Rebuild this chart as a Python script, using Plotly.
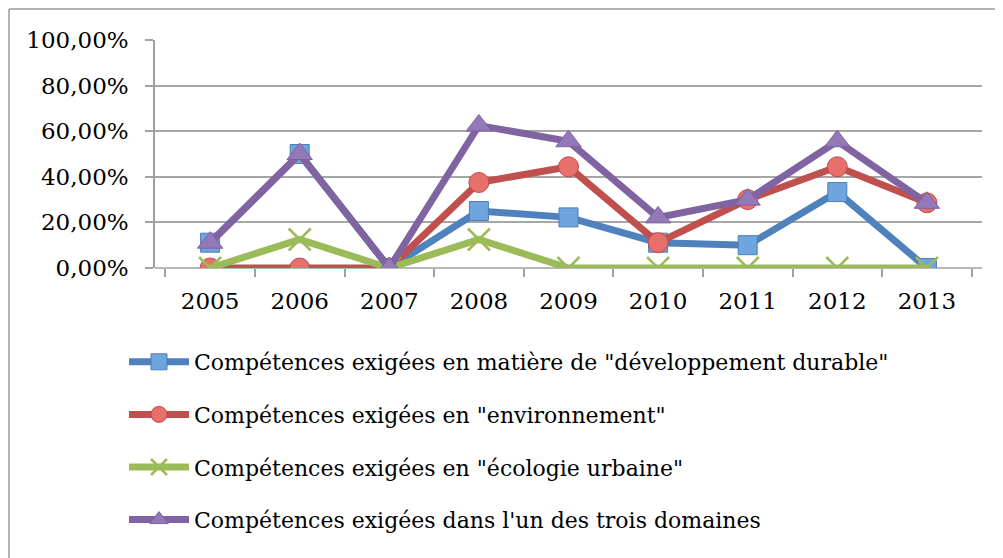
import plotly.graph_objects as go

years = ["2005", "2006", "2007", "2008", "2009", "2010", "2011", "2012", "2013"]
dev_durable = [0.111, 0.50, 0.0, 0.25, 0.222, 0.111, 0.10, 0.333, 0.0]
environnement = [0.0, 0.0, 0.0, 0.375, 0.444, 0.111, 0.30, 0.444, 0.286]
ecologie_urbaine = [0.0, 0.125, 0.0, 0.125, 0.0, 0.0, 0.0, 0.0, 0.0]
trois_domaines = [0.111, 0.50, 0.0, 0.625, 0.556, 0.222, 0.30, 0.556, 0.286]

names = [
    'Compétences exigées en matière de "développement durable"',
    'Compétences exigées en "environnement"',
    'Compétences exigées en "écologie urbaine"',
    "Compétences exigées dans l'un des trois domaines",
]

FONT = "DejaVu Serif"

fig = go.Figure()
fig.add_trace(go.Scatter(
    x=years, y=dev_durable, name=names[0], mode="lines+markers", legendgroup="a",
    line=dict(color="#4F81BD", width=7),
    marker=dict(symbol="square", size=19, color="#6FA5DE", line=dict(color="#4A7EBB", width=1)),
))
fig.add_trace(go.Scatter(
    x=years, y=environnement, name=names[1], mode="lines+markers", legendgroup="b",
    line=dict(color="#C0504D", width=7),
    marker=dict(symbol="circle", size=20, color="#E8706C", line=dict(color="#BE4B48", width=1)),
))
fig.add_trace(go.Scatter(
    x=years, y=ecologie_urbaine, name=names[2], mode="lines+markers", legendgroup="c",
    line=dict(color="#9BBB59", width=7),
    marker=dict(symbol="x-thin-open", size=22, color="#9BBB59", line=dict(color="#9BBB59", width=2.5)),
))
fig.add_trace(go.Scatter(
    x=years, y=trois_domaines, name=names[3], mode="lines+markers", legendgroup="d",
    line=dict(color="#8064A2", width=7),
    marker=dict(symbol="triangle-up", size=22, color="#9479B8", line=dict(color="#7D60A0", width=1)),
))

OFF = 8  # page offset of the figure
W, H = 1003 - OFF, 558 - OFF
L, R, T, B = 155 - OFF, 21, 40 - OFF, 290
pw, ph = W - L - R, H - T - B

def px_x(p):
    return (p - OFF - L) / pw

def px_y(p):
    return (H - B - (p - OFF)) / ph

fig.update_layout(
    width=W, height=H,
    margin=dict(l=L, r=R, t=T, b=B, autoexpand=False),
    paper_bgcolor="white", plot_bgcolor="white",
    separators=", ",
    font=dict(family=FONT, color="black", size=23),
    showlegend=True,
    legend=dict(
        x=px_x(124), y=px_y(341), xanchor="left", yanchor="top",
        font=dict(family=FONT, size=22, color="black"),
        tracegroupgap=21, itemwidth=60, bgcolor="rgba(0,0,0,0)",
    ),
    xaxis=dict(
        type="category", tickson="boundaries", ticks="outside", ticklen=8,
        tickcolor="#A0A0A0", tickwidth=1.5, showgrid=False, showline=False,
        tickfont=dict(family=FONT, size=23), ticklabelstandoff=17,
    ),
    yaxis=dict(
        range=[0, 1], tickvals=[0, 0.2, 0.4, 0.6, 0.8, 1.0], tickformat=".2%",
        ticks="outside", ticklen=8, tickcolor="#A0A0A0", tickwidth=1.5,
        showgrid=True, gridcolor="#A6A6A6", gridwidth=1.5,
        showline=True, linecolor="#A0A0A0", linewidth=1.5,
        zeroline=False, tickfont=dict(family=FONT, size=23), ticklabelstandoff=12,
    ),
    shapes=[
        dict(type="line", xref="paper", yref="paper", x0=px_x(9), x1=px_x(9),
             y0=px_y(9), y1=px_y(600), line=dict(color="#9A9A9A", width=1.5)),
        dict(type="line", xref="paper", yref="paper", x0=px_x(9), x1=px_x(1100),
             y0=px_y(9), y1=px_y(9), line=dict(color="#9A9A9A", width=1.5)),
        dict(type="line", xref="paper", yref="paper", x0=0, x1=1,
             y0=0, y1=0, line=dict(color="#A0A0A0", width=1.5), layer="below"),
    ],
)

fig.write_html("out.html")
